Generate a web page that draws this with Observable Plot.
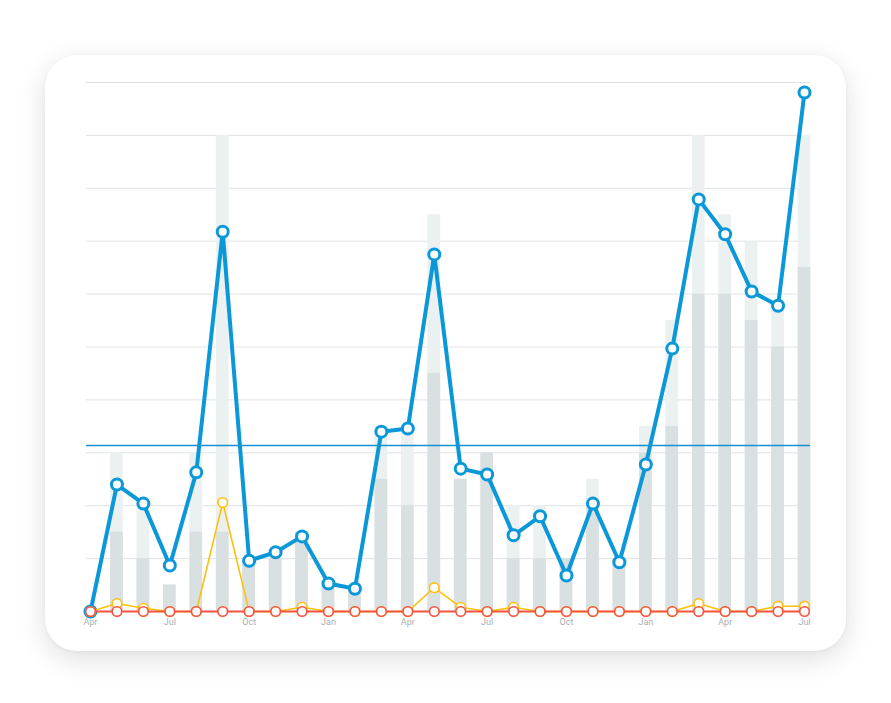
<!DOCTYPE html>
<html>
<head>
<meta charset="utf-8">
<script src="https://cdn.jsdelivr.net/npm/d3@7"></script>
<script src="https://cdn.jsdelivr.net/npm/@observablehq/plot@0.6"></script>
<style>
  html, body { margin: 0; padding: 0; background: #ffffff; }
  #wrap { position: relative; width: 891px; height: 703px; overflow: hidden; }
  #card { position: absolute; left: 45px; top: 55px; width: 801px; height: 596px;
          background: #fff; border-radius: 32px;
          box-shadow: 0 8px 28px rgba(0,0,0,0.13), 0 1px 4px rgba(0,0,0,0.04); }
  #chart { position: absolute; left: 0; top: 0; }
</style>
</head>
<body>
<div id="wrap"><div id="card"></div><div id="chart"></div></div>
<script>
// Month labels (Apr of year 1 .. Jul of year 3)
const months = ["Apr","May","Jun","Jul","Aug","Sep","Oct","Nov","Dec","Jan","Feb","Mar",
                "Apr","May","Jun","Jul","Aug","Sep","Oct","Nov","Dec","Jan","Feb","Mar",
                "Apr","May","Jun","Jul"];
// Which positions carry an axis label
const tickIdx = [0, 3, 6, 9, 12, 15, 18, 21, 24, 27];

// Main series (blue line)
const blue = [0, 24.0, 20.4, 8.7, 26.3, 71.8, 9.6, 11.2, 14.2, 5.3, 4.3, 34.0, 34.6, 67.5,
              27.0, 25.9, 14.4, 18.0, 6.8, 20.4, 9.3, 27.8, 49.7, 77.9, 71.3, 60.5, 57.8, 98.1];
// Secondary series (yellow line)
const yellow = [0, 1.5, 0.6, 0, 0, 20.6, 0, 0, 0.8, 0, 0, 0, 0, 4.5,
                0.8, 0, 0.8, 0, 0, 0, 0, 0, 0, 1.5, 0, 0, 1.0, 1.0];
// Third series (red line)
const red = [0, 0, 0, 0, 0, 0, 0, 0, 0, 0, 0, 0, 0, 0,
             0, 0, 0, 0, 0, 0, 0, 0, 0, 0, 0, 0, 0, 0];
// Bars: darker lower part and total height (lighter upper part)
const barLow = [0, 15, 10, 5, 15, 15, 10, 10, 15, 5, 5, 25, 20, 45,
                25, 30, 10, 10, 10, 20, 10, 30, 35, 60, 60, 55, 50, 65];
const barTotal = [0, 30, 20, 5, 30, 90, 10, 10, 15, 5, 5, 35, 35, 75,
                  25, 30, 20, 20, 10, 25, 10, 35, 55, 90, 75, 70, 57.5, 90];
// Reference level (horizontal blue rule)
const reference = 31.4;
const gridValues = [10, 20, 30, 40, 50, 60, 70, 80, 90, 100];

const rows = months.map((m, i) => ({
  i, label: m, blue: blue[i], yellow: yellow[i], red: red[i],
  low: barLow[i], total: barTotal[i]
}));

const BLUE = "#0a98d8", YELLOW = "#fcc10f", RED = "#f5533d";

const chart = Plot.plot({
  width: 891,
  height: 703,
  marginLeft: 86,
  marginRight: 81,
  marginTop: 82,
  marginBottom: 92,
  style: { background: "transparent", fontFamily: "Roboto, 'Liberation Sans', sans-serif" },
  x: { type: "band", domain: rows.map(d => d.i), range: [83.65, 810.35],
       paddingInner: 0.52, paddingOuter: 0, round: false, label: null },
  y: { domain: [0, 100], axis: null },
  marks: [
    Plot.ruleY(gridValues, { stroke: "#dfe3e6", strokeWidth: 1 }),
    Plot.barY(rows, { x: "i", y: "total", fill: "#ebf0f0" }),
    Plot.barY(rows, { x: "i", y: "low", fill: "#d9e0e2" }),
    Plot.ruleY([reference], { stroke: "#1590d4", strokeWidth: 1.5 }),
    Plot.line(rows, { x: "i", y: "blue", stroke: BLUE, strokeWidth: 4, strokeLinejoin: "round", strokeLinecap: "round" }),
    Plot.dot(rows, { x: "i", y: "blue", r: 5.5, fill: "#fff", stroke: BLUE, strokeWidth: 3 }),
    Plot.line(rows, { x: "i", y: "yellow", stroke: YELLOW, strokeWidth: 1.6 }),
    Plot.dot(rows, { x: "i", y: "yellow", r: 4.8, fill: "#fff", stroke: YELLOW, strokeWidth: 1.6 }),
    Plot.line(rows, { x: "i", y: "red", stroke: RED, strokeWidth: 2 }),
    Plot.dot(rows, { x: "i", y: "red", r: 4.8, fill: "#fff", stroke: RED, strokeWidth: 1.6 }),
    Plot.axisX({ ticks: tickIdx, tickSize: 0, tickPadding: 7, tickFormat: i => months[i],
                 fill: "#a9afb3", fontSize: 9, label: null })
  ]
});
document.getElementById("chart").appendChild(chart);
</script>
</body>
</html>
